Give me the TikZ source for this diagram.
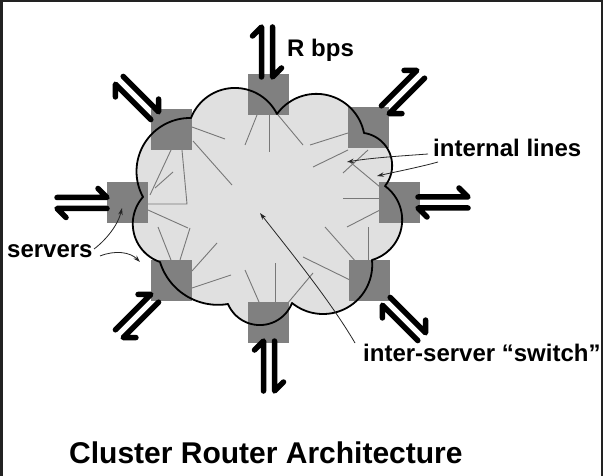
\documentclass[tikz,border=0pt]{standalone}
\usepackage{fontspec}
\setmainfont{Liberation Sans}
\usetikzlibrary{arrows.meta}
\definecolor{framecol}{HTML}{222222}
\definecolor{cloudfill}{HTML}{E0E0E0}
\definecolor{servercol}{HTML}{808080}
\definecolor{linecol}{HTML}{787878}
\newcommand\harpoonpair[3]{%
  \begin{scope}[shift={(#1,#2)}, rotate=#3]
    \draw[harpline] (-25,-5.5) -- (25,-5.5) -- (16,-14.5);
    \draw[harpline] (25,5.5) -- (-25,5.5) -- (-16,14.5);
  \end{scope}}
% circular bump through P (#2,#3), M (#4,#5), Q (#6,#7); stored as \bump<name>
\newcommand\mkbump[7]{%
  \pgfmathsetmacro\bmbx{(#4-#2)/10}%
  \pgfmathsetmacro\bmby{(#5-#3)/10}%
  \pgfmathsetmacro\bmcx{(#6-#2)/10}%
  \pgfmathsetmacro\bmcy{(#7-#3)/10}%
  \pgfmathsetmacro\bmd{2*(\bmbx*\bmcy-\bmby*\bmcx)}%
  \pgfmathsetmacro\bmux{(\bmcy*(\bmbx*\bmbx+\bmby*\bmby)-\bmby*(\bmcx*\bmcx+\bmcy*\bmcy))/\bmd}%
  \pgfmathsetmacro\bmuy{(\bmbx*(\bmcx*\bmcx+\bmcy*\bmcy)-\bmcx*(\bmbx*\bmbx+\bmby*\bmby))/\bmd}%
  \pgfmathsetmacro\bmr{10*sqrt(\bmux*\bmux+\bmuy*\bmuy)}%
  \pgfmathsetmacro\bmox{#2+10*\bmux}%
  \pgfmathsetmacro\bmoy{#3+10*\bmuy}%
  \pgfmathsetmacro\bmsa{atan2(-\bmuy,-\bmux)}%
  \pgfmathsetmacro\bmea{atan2(\bmcy-\bmuy,\bmcx-\bmux)}%
  \pgfmathsetmacro\bmea{\bmea+360*(\bmea<\bmsa)}%
  \expandafter\xdef\csname bump#1\endcsname{-- plot[domain=\bmsa:\bmea, samples=36] ({\bmox+\bmr*cos(\noexpand\x)},{\bmoy+\bmr*sin(\noexpand\x)})}%
}
\begin{document}
\begin{tikzpicture}[x=1pt,y=-1pt,
  server/.style={fill=servercol, draw=none, minimum size=41pt, inner sep=0pt},
  inline/.style={draw=linecol, line width=0.9pt},
  harpline/.style={draw=black, line width=5.5pt, line cap=round, line join=round},
  labarrow/.style={draw=black!85, line width=0.8pt, -{Stealth[length=7pt,width=4.5pt]}},
  labtext/.style={font=\fontsize{24}{24}\selectfont\bfseries, anchor=base west, inner sep=0pt},
  cloudline/.style={draw=black, line width=1.8pt, line join=round}]
\useasboundingbox (0,0) rectangle (603,476);
\fill[white] (0,0) rectangle (603,476);
\fill[framecol] (0,0) rectangle (603,2.5);
\fill[framecol] (0,0) rectangle (2.5,476);
\fill[framecol] (600.5,0) rectangle (603,476);

% cloud bumps: cusps A..I, peaks between
\mkbump{AB}{191}{118}{237}{88}{277}{114}
\mkbump{BC}{277}{114}{320}{94}{364}{133}
\mkbump{CD}{364}{133}{391}{157}{385}{186}
\mkbump{DE}{385}{186}{401}{210}{372}{260}
\mkbump{EF}{372}{260}{340}{311}{292}{303}
\mkbump{FG}{292}{303}{262}{325}{228}{304}
\mkbump{GH}{228}{304}{190}{298}{160}{262}
\mkbump{HI}{160}{262}{133}{228}{143}{197}
\mkbump{IA}{143}{197}{141}{150}{191}{118}
\def\cloudpath{(191,118) \bumpAB \bumpBC \bumpCD \bumpDE \bumpEF \bumpFG \bumpGH \bumpHI \bumpIA -- cycle}

% cloud fill
\fill[cloudfill] \cloudpath;

% internal lines
\draw[inline] (192,127) -- (225,139);
\draw[inline] (193,141) -- (232,185);
\draw[inline] (171,150) -- (150,195);
\draw[inline] (173,172) -- (155,188);
\draw[inline] (182,150) -- (187,204) -- (148,204);
\draw[inline] (148,210) -- (188,228);
\draw[inline] (158,227) -- (171,260);
\draw[inline] (190,228) -- (180,260);
\draw[inline] (192,271) -- (217,243);
\draw[inline] (192,288) -- (231,275);
\draw[inline] (259,302) -- (245,270);
\draw[inline] (275,302) -- (275,263);
\draw[inline] (287,304) -- (313,273);
\draw[inline] (350,280) -- (303,257);
\draw[inline] (357,263) -- (325,227);
\draw[inline] (368,260) -- (368,227);
\draw[inline] (380,198) -- (343,198);
\draw[inline] (380,210) -- (347,227);
\draw[inline] (348,133) -- (310,145);
\draw[inline] (348,150) -- (313,167);
\draw[inline] (368,150) -- (343,173);
\draw[inline] (380,187) -- (350,162);
\draw[inline] (257,115) -- (245,145);
\draw[inline] (269,115) -- (269,152);
\draw[inline] (278,115) -- (303,145);

% servers
\node[server] (sT)  at (268.5,95) {};
\node[server] (sTL) at (171.5,129.5) {};
\node[server] (sTR) at (368,128) {};
\node[server] (sL)  at (127.5,202.5) {};
\node[server] (sR)  at (399.5,202.5) {};
\node[server] (sBL) at (171.5,280) {};
\node[server] (sBR) at (369.5,280) {};
\node[server] (sB)  at (268.5,322) {};

% cloud outline
\draw[cloudline] \cloudpath;

% external links
\harpoonpair{267}{52}{90}
\harpoonpair{269}{366}{270}
\harpoonpair{82}{203}{180}
\harpoonpair{443}{202.5}{0}
\harpoonpair{137}{98}{135}
\harpoonpair{403}{92}{45}
\harpoonpair{137}{316}{225}
\harpoonpair{404}{319}{-45}

% labels
\node[labtext] (rbps) at (287,57) {R bps};
\node[labtext] (intl) at (433,157) {internal lines};
\node[labtext] (serv) at (7,258) {servers};
\node[labtext] (swit) at (363,361) {inter-server “switch”};
\node[font=\fontsize{30}{30}\selectfont\bfseries, anchor=base west, inner sep=0pt] (title) at (69,463) {Cluster Router Architecture};

% label pointers
\coordinate (pServA) at (94,249);
\coordinate (pServB) at (100,256);
\coordinate (pIntA) at (428,154);
\coordinate (pIntB) at (438,162);
\coordinate (pSw) at (355,343);
\coordinate (tServA) at (122,208);
\coordinate (tServB) at (140,262);
\coordinate (tIntA) at (347,162);
\coordinate (tIntB) at (377,176);
\coordinate (tSw) at (260,213);
\draw[labarrow] (pServA) .. controls (106,240) and (118,225) .. (tServA);
\draw[labarrow] (pServB) .. controls (115,250) and (130,252) .. (tServB);
\draw[labarrow] (pIntA) .. controls (400,156) and (370,158) .. (tIntA);
\draw[labarrow] (pIntB) .. controls (420,167) and (395,172) .. (tIntB);
\draw[labarrow] (pSw) .. controls (330,300) and (285,245) .. (tSw);
\end{tikzpicture}
\end{document}
